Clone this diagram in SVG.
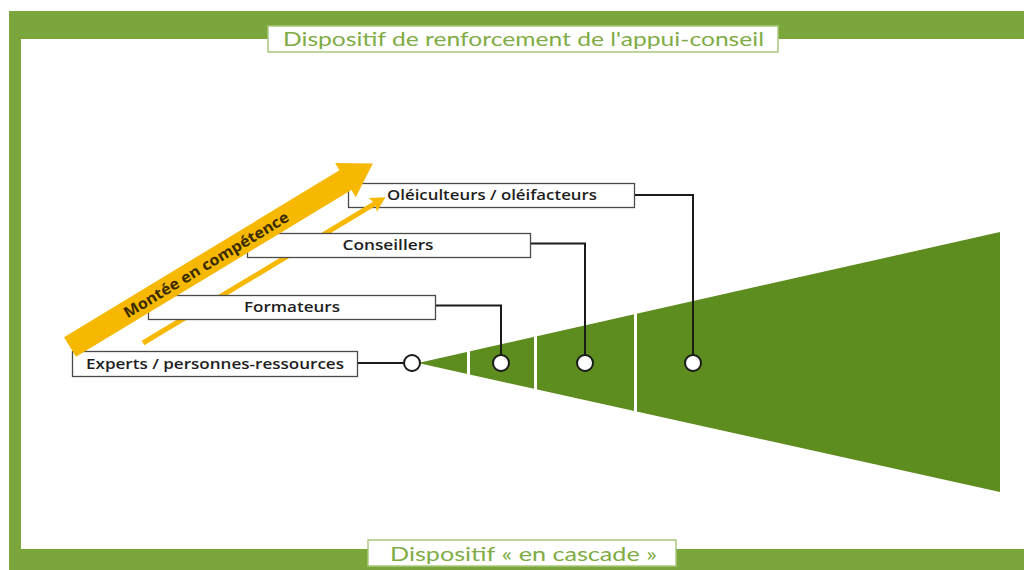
<svg xmlns="http://www.w3.org/2000/svg" width="1024" height="570" viewBox="0 0 1024 570">
  <defs>
    <style>
      .frame { fill: #7ba63c; }
      .panel { fill: #ffffff; }
      .tbox { fill: #ffffff; stroke: #a9c97e; stroke-width: 1.5; }
      .ttext { font-family: Lato, "Open Sans", sans-serif; font-size: 20px; fill: #7fac44; }
      .box { fill: #ffffff; stroke: #4a4a4a; stroke-width: 1.3; }
      .shadow { fill: #c8c8c8; }
      .btext { font-family: "Open Sans", "Noto Sans", sans-serif; font-weight: 600; font-size: 14.5px; fill: #1e1e1e; text-anchor: middle; }
      .conn { fill: none; stroke: #1a1a1a; stroke-width: 2; }
      .dot { fill: #ffffff; stroke: #1a1a1a; stroke-width: 2; }
      .tri { fill: #5d8c1f; }
      .div { stroke: #ffffff; stroke-width: 3; }
      .arrow { fill: #f6b800; }
      .atext { font-family: "Open Sans", "Noto Sans", sans-serif; font-weight: 700; font-size: 15px; fill: #3a2c00; text-anchor: middle; }
    </style>
  </defs>

  <!-- Frame -->
  <g id="frame">
    <rect class="frame" x="9" y="11" width="1015" height="559"/>
    <rect class="panel" x="21" y="39" width="1003" height="510"/>
  </g>

  <g id="title-top">
    <rect class="tbox" x="268" y="26" width="510" height="26"/>
    <text class="ttext" x="283" y="46" textLength="481" lengthAdjust="spacingAndGlyphs">Dispositif de renforcement de l'appui-conseil</text>
  </g>

  <g id="title-bottom">
    <rect class="tbox" x="368" y="540" width="308" height="26"/>
    <text class="ttext" x="390" y="561" textLength="267" lengthAdjust="spacingAndGlyphs">Dispositif « en cascade »</text>
  </g>

  <!-- Cascade triangle -->
  <g id="cascade">
    <polygon class="tri" points="418,363 1000,232 1000,492"/>
    <line class="div" x1="468.5" y1="340" x2="468.5" y2="386"/>
    <line class="div" x1="535.5" y1="325" x2="535.5" y2="401"/>
    <line class="div" x1="635.5" y1="302" x2="635.5" y2="424"/>
  </g>

  <!-- Connectors -->
  <g id="connectors">
    <path class="conn" d="M358,363 H404"/>
    <path class="conn" d="M436,305.5 H501 V355"/>
    <path class="conn" d="M530,243.5 H585 V355"/>
    <path class="conn" d="M635,195 H693 V355"/>
    <circle class="dot" cx="412" cy="363" r="8"/>
    <circle class="dot" cx="501" cy="363" r="8"/>
    <circle class="dot" cx="585" cy="363" r="8"/>
    <circle class="dot" cx="693" cy="363" r="8"/>
  </g>

  <!-- Oleiculteurs box -->
  <g id="node-oleiculteurs">
    <rect class="box" x="348.5" y="183.5" width="286" height="24"/>
    <text class="btext" x="492" y="200" textLength="210" lengthAdjust="spacingAndGlyphs">Oléiculteurs / oléifacteurs</text>
  </g>

  <!-- Thin yellow arrow (behind lower boxes) -->
  <g id="thin-arrow" transform="translate(143,343) rotate(-31)">
    <polygon class="arrow" points="0,-2.5 270,-2.5 268,-8 283,0 268,8 270,2.5 0,2.5"/>
  </g>

  <g id="node-conseillers">
    <rect class="box" x="247.5" y="233.5" width="283" height="24"/>
    <text class="btext" x="388" y="250" textLength="91" lengthAdjust="spacingAndGlyphs">Conseillers</text>
  </g>

  <g id="node-formateurs">
    <rect class="box" x="148.5" y="295.5" width="287" height="24"/>
    <text class="btext" x="292" y="312" textLength="96" lengthAdjust="spacingAndGlyphs">Formateurs</text>
  </g>

  <g id="node-experts">
    <rect class="box" x="72.5" y="351.5" width="285" height="25"/>
    <text class="btext" x="215" y="369" textLength="258" lengthAdjust="spacingAndGlyphs">Experts / personnes-ressources</text>
  </g>

  <!-- Big yellow arrow -->
  <g id="big-arrow" transform="translate(70,347) rotate(-31.2)">
    <polygon class="arrow" points="0,-11.5 322,-11.5 322,-20 354,0 322,20 322,11.5 0,11.5"/>
    <text class="atext" x="159" y="5.5" textLength="190" lengthAdjust="spacingAndGlyphs">Montée en compétence</text>
  </g>
</svg>
